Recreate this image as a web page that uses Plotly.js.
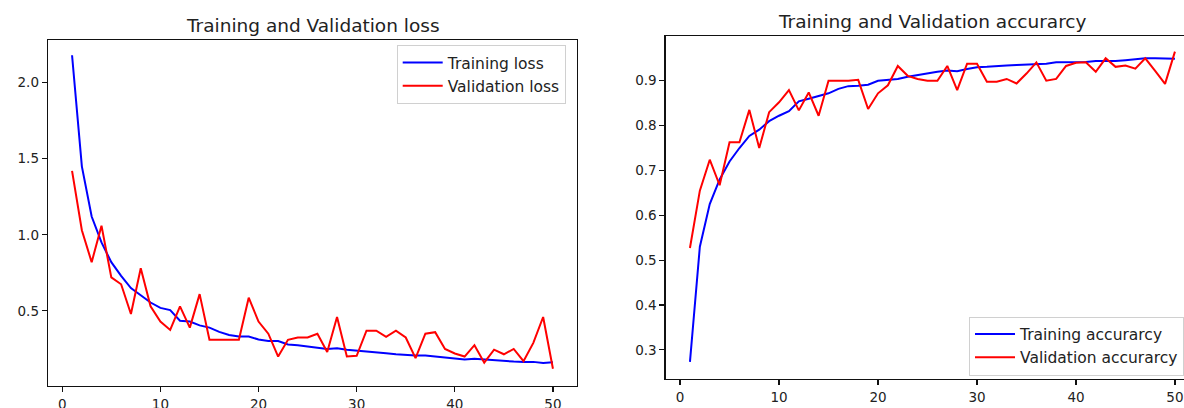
<!DOCTYPE html>
<html>
<head>
<meta charset="utf-8">
<script src="https://cdn.plot.ly/plotly-3.0.1.min.js"></script>
<style>
html,body{margin:0;padding:0;background:#fff;overflow:hidden;width:1184px;height:408px;}
#chart{width:1200px;height:408px;}
</style>
</head>
<body>
<div id="chart"></div>
<script>
const epochs = [1,2,3,4,5,6,7,8,9,10,11,12,13,14,15,16,17,18,19,20,21,22,23,24,25,26,27,28,29,30,31,32,33,34,35,36,37,38,39,40,41,42,43,44,45,46,47,48,49,50];

const trainLoss = [2.18,1.45,1.12,0.95,0.82,0.73,0.65,0.60,0.555,0.52,0.505,0.435,0.43,0.405,0.39,0.362,0.342,0.332,0.332,0.312,0.302,0.302,0.279,0.275,0.265,0.258,0.25,0.255,0.245,0.24,0.236,0.228,0.222,0.215,0.21,0.207,0.207,0.20,0.193,0.19,0.18,0.185,0.18,0.176,0.174,0.167,0.165,0.165,0.158,0.162];
const valLoss = [1.42,1.03,0.82,1.06,0.72,0.675,0.48,0.78,0.53,0.43,0.375,0.53,0.39,0.61,0.31,0.31,0.31,0.31,0.587,0.43,0.35,0.20,0.31,0.325,0.325,0.35,0.23,0.46,0.20,0.205,0.37,0.37,0.33,0.37,0.325,0.19,0.35,0.36,0.25,0.22,0.20,0.275,0.16,0.245,0.215,0.25,0.17,0.29,0.46,0.12];

const trainAcc = [0.273,0.53,0.625,0.68,0.72,0.75,0.777,0.791,0.81,0.822,0.832,0.854,0.86,0.866,0.872,0.882,0.888,0.889,0.891,0.9,0.902,0.904,0.909,0.913,0.916,0.92,0.923,0.921,0.926,0.93,0.931,0.933,0.934,0.935,0.936,0.937,0.938,0.941,0.941,0.942,0.942,0.944,0.944,0.944,0.946,0.948,0.95,0.95,0.949,0.949];
const valAcc = [0.527,0.655,0.724,0.667,0.763,0.763,0.835,0.75,0.83,0.852,0.879,0.834,0.874,0.822,0.9,0.9,0.9,0.902,0.837,0.872,0.89,0.933,0.911,0.904,0.9,0.9,0.933,0.879,0.938,0.938,0.898,0.898,0.904,0.894,0.916,0.941,0.9,0.904,0.933,0.94,0.941,0.92,0.95,0.931,0.934,0.927,0.95,0.922,0.893,0.965];

const lossTicks = [0.5,1.0,1.5,2.0];
const lossTickText = ["0.5","1.0","1.5","2.0"];
const accTicks = [0.3,0.4,0.5,0.6,0.7,0.8,0.9];
const accTickText = ["0.3","0.4","0.5","0.6","0.7","0.8","0.9"];
const xTicks = [0,10,20,30,40,50];
const xTickText = ["0","10","20","30","40","50"];

const titles = ["Training and Validation loss","Training and Validation accurarcy"];
const names = ["Training loss","Validation loss","Training accurarcy","Validation accurarcy"];

const W = 1200, H = 408;
const font = "DejaVu Sans, sans-serif";

const traces = [
  {x: epochs, y: trainLoss, name: names[0], type: 'scatter', mode: 'lines', line: {color: '#0000ff', width: 2}, xaxis: 'x', yaxis: 'y', legend: 'legend'},
  {x: epochs, y: valLoss, name: names[1], type: 'scatter', mode: 'lines', line: {color: '#ff0000', width: 2}, xaxis: 'x', yaxis: 'y', legend: 'legend'},
  {x: epochs, y: trainAcc, name: names[2], type: 'scatter', mode: 'lines', line: {color: '#0000ff', width: 2}, xaxis: 'x2', yaxis: 'y2', legend: 'legend2'},
  {x: epochs, y: valAcc, name: names[3], type: 'scatter', mode: 'lines', line: {color: '#ff0000', width: 2}, xaxis: 'x2', yaxis: 'y2', legend: 'legend2'}
];

const axisCommon = {
  showgrid: false, zeroline: false, showline: true, mirror: true,
  linecolor: '#111', linewidth: 1.3, ticks: 'outside', ticklen: 5, tickwidth: 1.2, tickcolor: '#111',
  tickfont: {family: font, size: 13.5, color: '#222'}, fixedrange: true
};

const legendCommon = {
  font: {family: font, size: 15.5, color: '#222'},
  bgcolor: '#ffffff', bordercolor: '#d0d0d0', borderwidth: 1,
  xanchor: 'left', yanchor: 'top', itemwidth: 40, tracegroupgap: 0
};

const layout = {
  width: W, height: H,
  margin: {l: 0, r: 0, t: 0, b: 0},
  paper_bgcolor: '#ffffff', plot_bgcolor: '#ffffff',
  showlegend: true,
  xaxis: Object.assign({}, axisCommon, {domain: [48/W, 577/W], range: [-1.45, 52.45], tickvals: xTicks, ticktext: xTickText, anchor: 'y'}),
  yaxis: Object.assign({}, axisCommon, {domain: [(H-386)/H, (H-40)/H], range: [0.0065, 2.28], tickvals: lossTicks, ticktext: lossTickText, anchor: 'x'}),
  xaxis2: Object.assign({}, axisCommon, {domain: [665.7/W, 1199.2/W], range: [-1.45, 52.45], tickvals: xTicks, ticktext: xTickText, anchor: 'y2'}),
  yaxis2: Object.assign({}, axisCommon, {domain: [(H-379)/H, (H-36)/H], range: [0.235, 0.9998], tickvals: accTicks, ticktext: accTickText, anchor: 'x2'}),
  legend: Object.assign({}, legendCommon, {x: 396.7/W, y: 1 - 45/H}),
  legend2: Object.assign({}, legendCommon, {x: 969/W, y: 1 - 316.5/H}),
  annotations: [
    {text: titles[0], xref: 'paper', yref: 'paper', x: 312.5/W, y: 1 - 25/H, xanchor: 'center', yanchor: 'middle', showarrow: false, font: {family: font, size: 18.5, color: '#222'}},
    {text: titles[1], xref: 'paper', yref: 'paper', x: 932.5/W, y: 1 - 21.5/H, xanchor: 'center', yanchor: 'middle', showarrow: false, font: {family: font, size: 18.5, color: '#222'}}
  ]
};

Plotly.newPlot('chart', traces, layout, {staticPlot: true, displayModeBar: false});
</script>
</body>
</html>
